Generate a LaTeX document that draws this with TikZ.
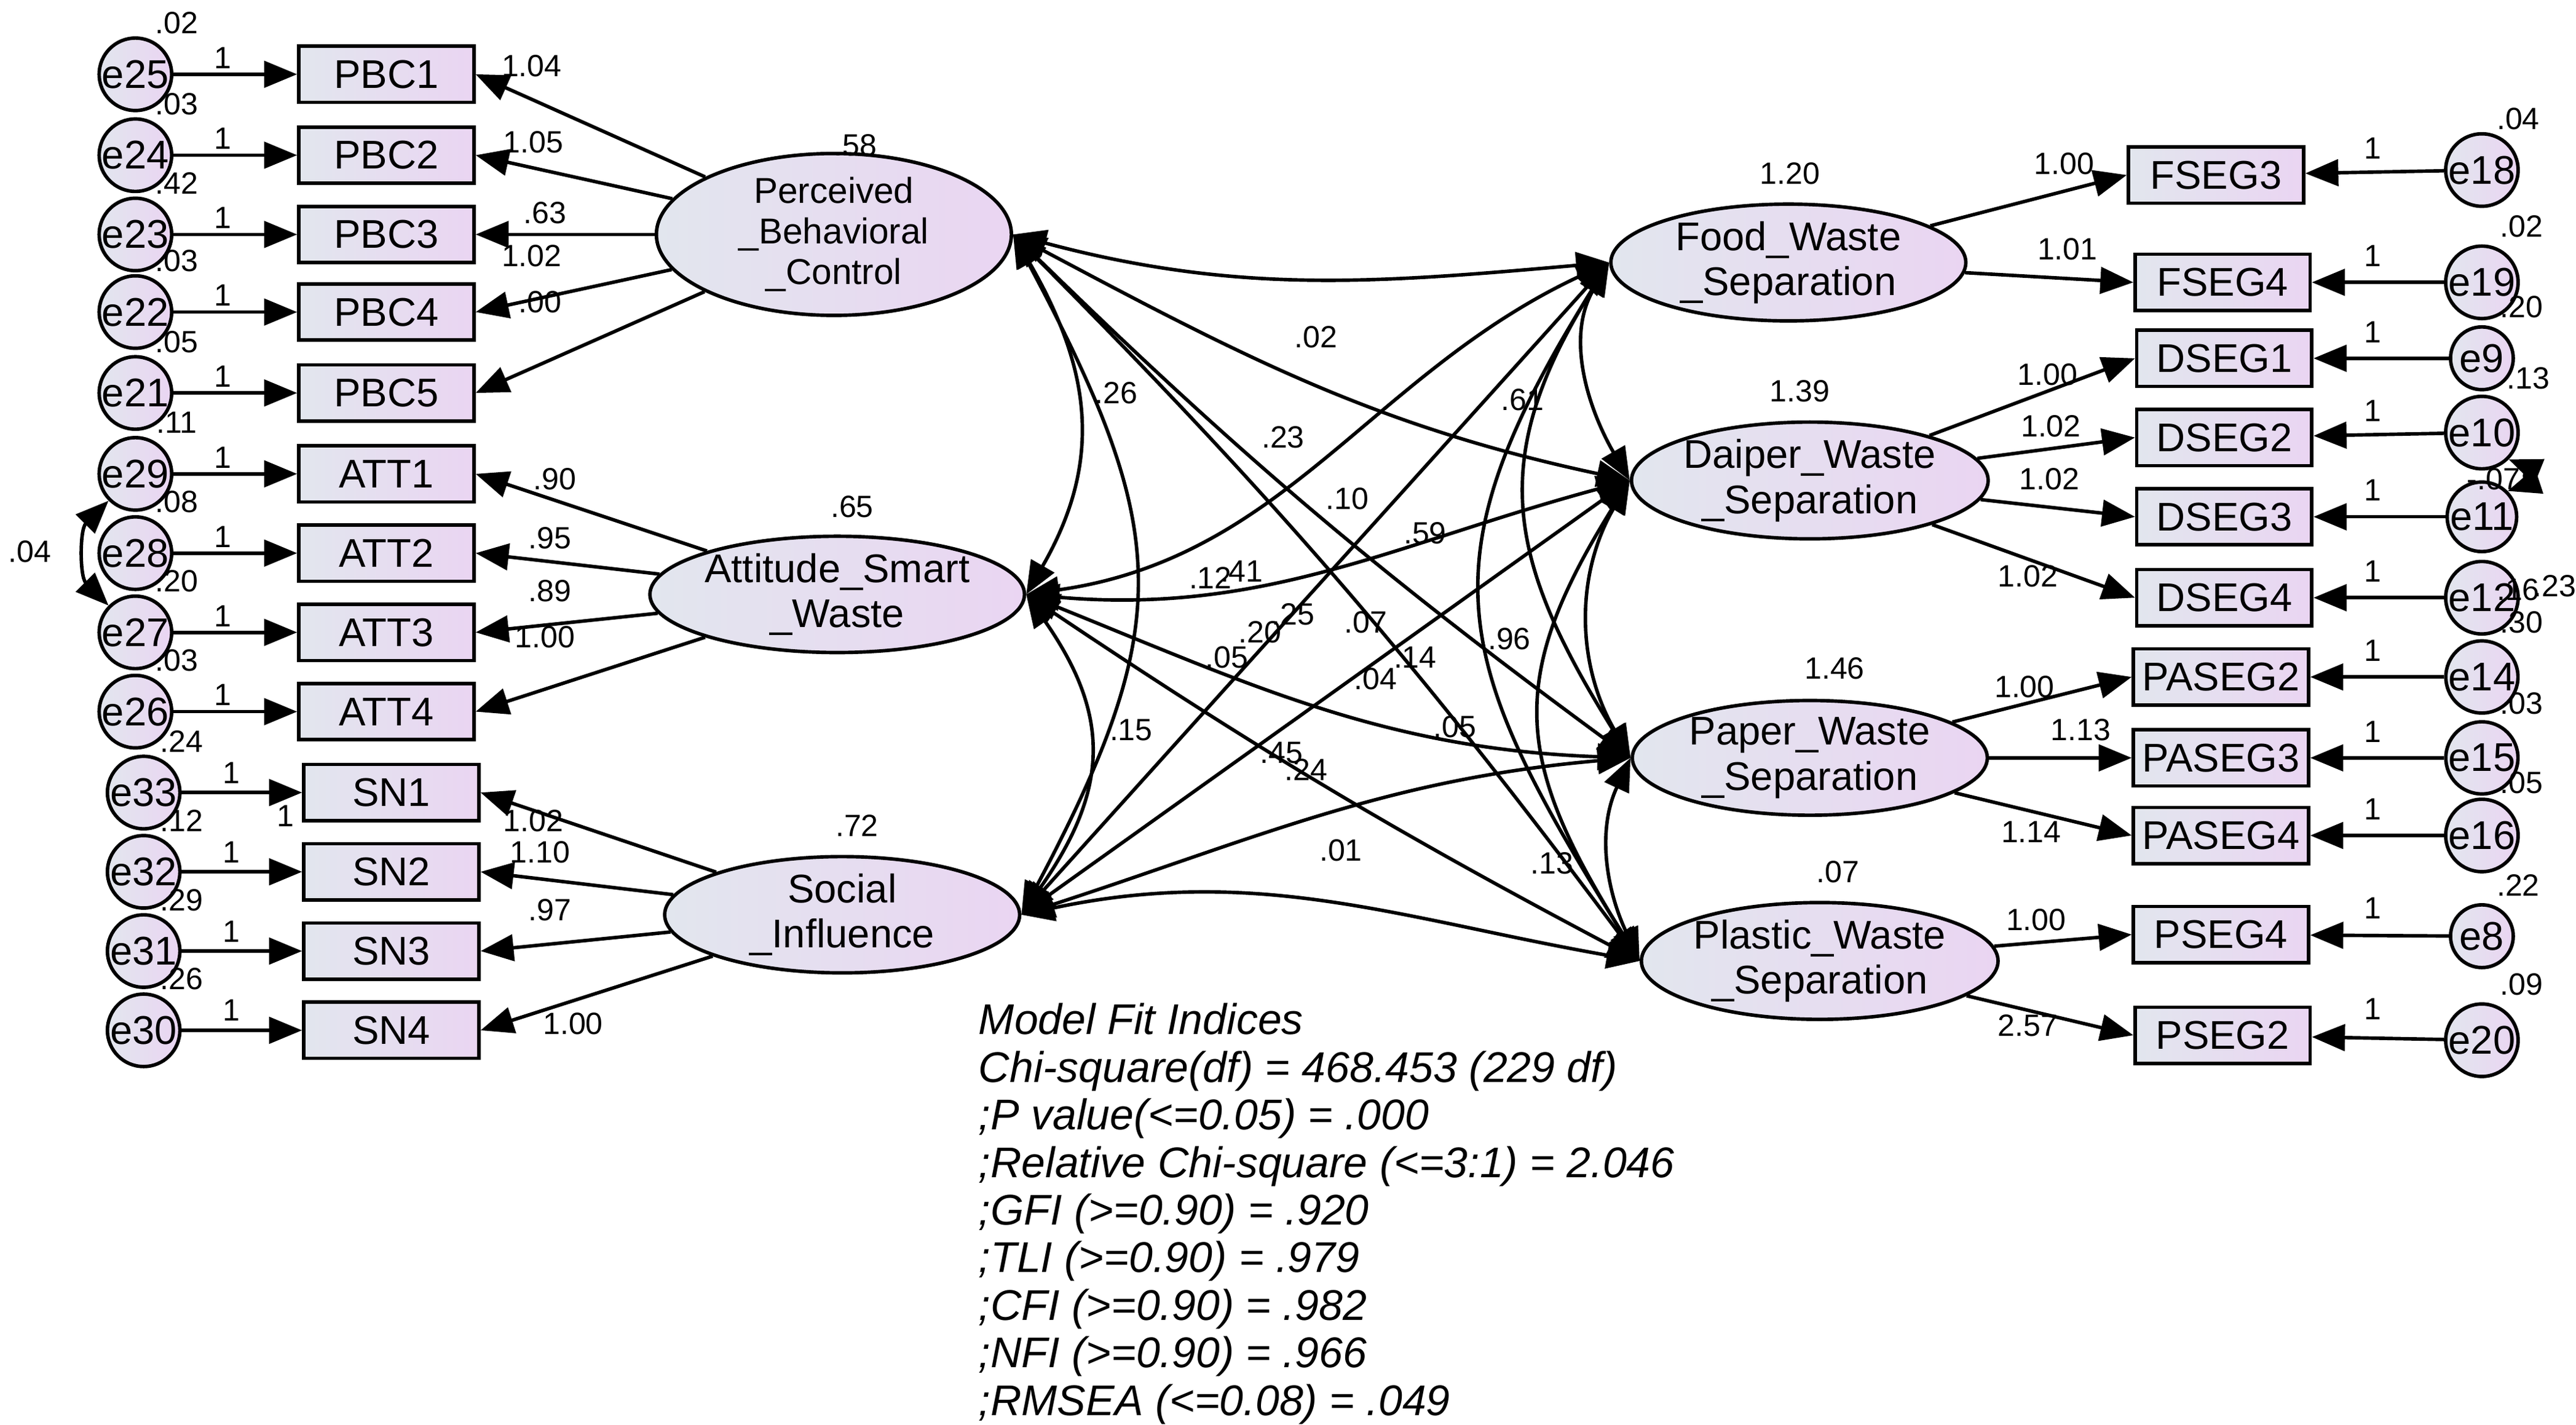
\documentclass[tikz,border=0pt]{standalone}
\usepackage{fontspec}
\setmainfont{Liberation Sans}
\usetikzlibrary{shapes.geometric,arrows.meta}
\definecolor{cl}{HTML}{E2E6EE}
\definecolor{cr}{HTML}{EAD5F2}
\begin{document}
\begin{tikzpicture}[x=0.1mm,y=-0.1mm,
 ln/.style={line width=0.6pt},
 arr/.style={ln,-{Triangle[length=2mm,width=1.6mm]}},
 dbl/.style={ln,{Triangle[length=2mm,width=1.6mm]}-{Triangle[length=2mm,width=1.6mm]}},
 box/.style={draw,ln,left color=cl,right color=cr,minimum width=10.6mm,minimum height=3.4mm,inner sep=0pt,font=\fontsize{6.9}{7}\selectfont},
 err/.style={circle,draw,ln,left color=cl,right color=cr,minimum size=3.8mm,inner sep=0pt,font=\fontsize{6.9}{7}\selectfont},
 lat/.style={ellipse,draw,ln,left color=cl,right color=cr,minimum width=21.5mm,minimum height=6.9mm,inner sep=0pt,align=center,font=\fontsize{6.9}{7.8}\selectfont},
 num/.style={inner sep=0pt,font=\fontsize{5.3}{6}\selectfont}]
\useasboundingbox (0,0) rectangle (1560,863);
% left indicators
\foreach \n/\y in {PBC1/45,PBC2/94,PBC3/142,PBC4/189,PBC5/238,ATT1/287,ATT2/335,ATT3/383,ATT4/431}
  \node[box] (\n) at (234,\y) {\n};
\foreach \n/\y in {SN1/480,SN2/528,SN3/576,SN4/624}
  \node[box] (\n) at (237,\y) {\n};
\foreach \e/\b/\y/\v in {e25/PBC1/45/.02,e24/PBC2/94/.03,e23/PBC3/142/.42,e22/PBC4/189/.03,e21/PBC5/238/.05,e29/ATT1/287/.11,e28/ATT2/335/.08,e27/ATT3/383/.20,e26/ATT4/431/.03}{
  \node[err] (\e) at (82,\y) {\e};
  \draw[arr] (\e) -- (\b);
  \node[num] at (135,\y-10) {1};
  \node[num] at (107,\y-31) {\v};}
\foreach \e/\b/\y/\v in {e33/SN1/480/.24,e32/SN2/528/.12,e31/SN3/576/.29,e30/SN4/624/.26}{
  \node[err] (\e) at (87,\y) {\e};
  \draw[arr] (\e) -- (\b);
  \node[num] at (140,\y-12) {1};
  \node[num] at (110,\y-31) {\v};}
\node[num] at (173,494) {1};
\draw[dbl] (e29.south west) to[bend right=45] (e27.north west);
\node[num] at (18,334) {.04};
% left latents
\node[lat,font=\fontsize{6.2}{7}\selectfont] (pbc) at (505,142) {Perceived\\\_Behavioral\\\_Control};
\node[lat] (att) at (507,360) {Attitude\_Smart\\\_Waste};
\node[lat] (si) at (510,554) {Social\\\_Influence};
\node[num] at (518,88) {.58};
\node[num] at (516,307) {.65};
\node[num] at (519,500) {.72};
\foreach \b in {PBC1,PBC2,PBC3,PBC4,PBC5} \draw[arr] (pbc) -- (\b.east);
\foreach \b in {ATT1,ATT2,ATT3,ATT4} \draw[arr] (att) -- (\b.east);
\foreach \b in {SN1,SN2,SN3,SN4} \draw[arr] (si) -- (\b.east);
\foreach \t/\x/\y in {1.04/322/40,1.05/323/86,.63/330/129,1.02/322/155,.00/327/183,.90/336/290,.95/333/326,.89/333/358,1.00/330/386,1.02/323/497,1.10/327/516,.97/333/551,1.00/347/620}
  \node[num] at (\x,\y) {\t};
% right latents
\node[lat] (food) at (1083,159) {Food\_Waste\\\_Separation};
\node[lat] (dai) at (1096,291) {Daiper\_Waste\\\_Separation};
\node[lat] (pap) at (1096,459) {Paper\_Waste\\\_Separation};
\node[lat] (pla) at (1102,582) {Plastic\_Waste\\\_Separation};
\node[num] at (1084,105) {1.20};
\node[num] at (1090,237) {1.39};
\node[num] at (1111,405) {1.46};
\node[num] at (1113,528) {.07};
% right indicators
\foreach \n/\x/\y/\e/\ey/\l in {FSEG3/1342/106/e18/103/food,FSEG4/1346/171/e19/171/food,DSEG1/1347/217/e9/217/dai,DSEG2/1347/265/e10/262/dai,DSEG3/1347/313/e11/313/dai,DSEG4/1347/362/e12/362/dai,PASEG2/1345/410/e14/410/pap,PASEG3/1345/459/e15/459/pap,PASEG4/1345/506/e16/506/pap,PSEG4/1345/566/e8/567/pla,PSEG2/1346/627/e20/630/pla}{
  \node[box] (\n) at (\x,\y) {\n};
  \node[err] (\e) at (1503,\ey) {\e};
  \draw[arr] (\e) -- (\n);
  \draw[arr] (\l) -- (\n.west);
  \node[num] at (1437,\y-16) {1};}
\foreach \t/\x/\y in {.04/1525/72,.02/1527/137,.20/1527/186,.13/1531/229,.16/1525/357,.23/1547/355,.30/1527/377,.03/1527/426,.05/1527/474,.22/1525/536,.09/1527/596,-.07/1510/290}
  \node[num] at (\x,\y) {\t};
\draw[dbl] (e10.south east) to[bend left=70] (e11.north east);
\foreach \t/\x/\y in {1.00/1250/99,1.01/1252/151,1.00/1240/227,1.02/1242/258,1.02/1241/290,1.02/1228/349,1.00/1226/416,1.13/1260/442,1.14/1230/504,1.00/1233/557,2.57/1228/621}
  \node[num] at (\x,\y) {\t};
% covariances left-left
\draw[dbl] (pbc.east) to[out=-60,in=60,looseness=1.1] (att.east);
\draw[dbl] (pbc.east) to[out=-62,in=62,looseness=1.25] (si.east);
\draw[dbl] (att.east) to[out=-55,in=55,looseness=1.2] (si.east);
% right-right
\draw[dbl] (food.west) to[out=-120,in=120] (dai.west);
\draw[dbl] (dai.west) to[out=-120,in=120] (pap.west);
\draw[dbl] (pap.west) to[out=-115,in=115] (pla.west);
\draw[dbl] (food.west) to[out=-122,in=122,looseness=1.2] (pap.west);
\draw[dbl] (dai.west) to[out=-122,in=122,looseness=1.25] (pla.west);
\draw[dbl] (food.west) to[out=-122,in=122,looseness=1.3] (pla.west);
% cross
\draw[dbl] (pbc.east) to[out=-15,in=185] (food.west);
\draw[dbl] (pbc.east) to[out=-28,in=168] (dai.west);
\draw[dbl] (pbc.east) to[bend right=4] (pap.west);
\draw[dbl] (pbc.east) to[bend left=4] (pla.west);
\draw[dbl] (att.east) to[out=8,in=205] (food.west);
\draw[dbl] (att.east) to[out=-5,in=195] (dai.west);
\draw[dbl] (att.east) to[out=-22,in=178] (pap.west);
\draw[dbl] (att.east) to[bend right=3] (pla.west);
\draw[dbl] (si.east) -- (food.west);
\draw[dbl] (si.east) -- (dai.west);
\draw[dbl] (si.east) to[out=18,in=185] (pap.west);
\draw[dbl] (si.east) to[out=12,in=170] (pla.west);
\foreach \t/\x/\y in {.02/797/204,.26/676/238,.23/777/265,.10/816/302,.61/922/242,.59/863/323,.12/733/350,.41/752/346,.25/783/372,.07/827/377,.20/763/383,.05/743/398,.96/914/387,.14/857/398,.04/833/411,.05/881/440,.15/685/442,.45/776/456,.24/791/466,.01/812/515,.13/940/523}
  \node[num] at (\x,\y) {\t};
% fit indices
\node[anchor=north west,align=left,inner sep=0pt,font=\fontsize{7.4}{8.2}\selectfont\itshape] (fit) at (592,607) {Model Fit Indices\\Chi-square(df) = 468.453 (229 df)\\;P value(<=0.05) = .000\\;Relative Chi-square (<=3:1) = 2.046\\;GFI (>=0.90) = .920\\;TLI (>=0.90) = .979\\;CFI (>=0.90) = .982\\;NFI (>=0.90) = .966\\;RMSEA (<=0.08) = .049};
\end{tikzpicture}
\end{document}
